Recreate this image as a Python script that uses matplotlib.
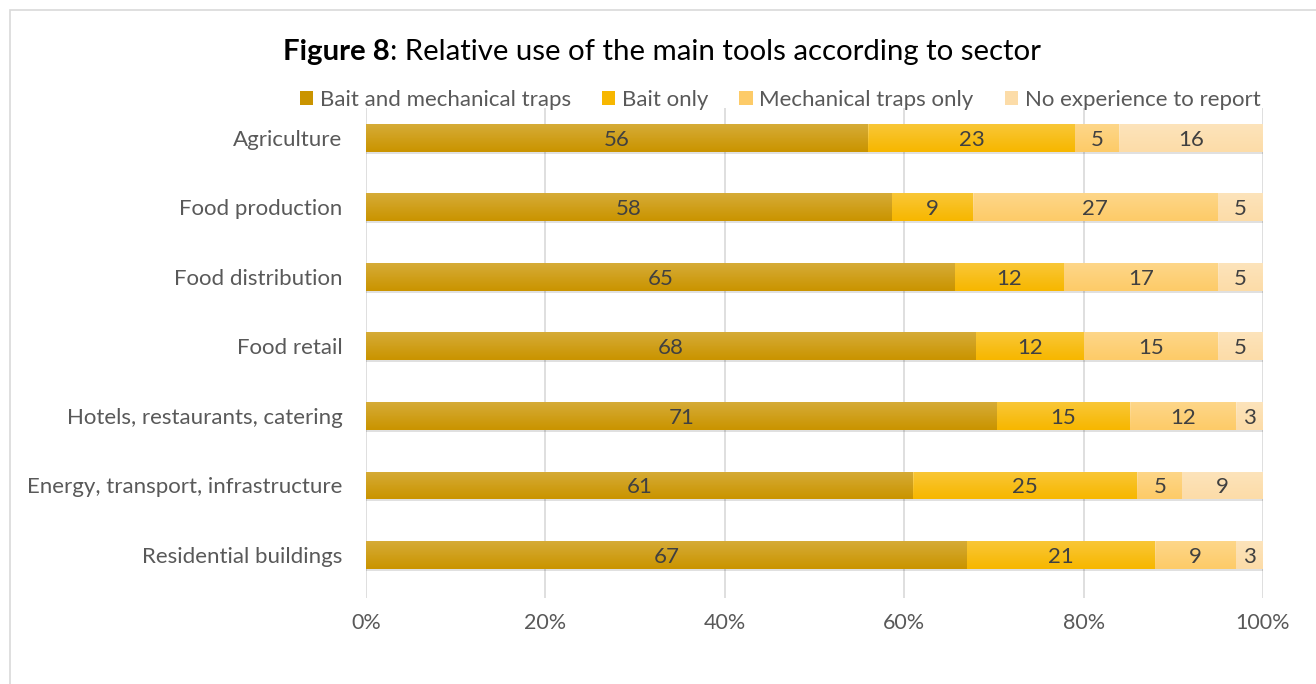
import numpy as np
import matplotlib
matplotlib.use("Agg")
import matplotlib.pyplot as plt
from matplotlib.patches import Rectangle

plt.rcParams["font.family"] = ["Lato", "DejaVu Sans"]

sectors = ["Agriculture", "Food production", "Food distribution", "Food retail",
           "Hotels, restaurants, catering", "Energy, transport, infrastructure",
           "Residential buildings"]
series = ["Bait and mechanical traps", "Bait only", "Mechanical traps only", "No experience to report"]
bait_and_traps = [56, 58, 65, 68, 71, 61, 67]
bait_only = [23, 9, 12, 12, 15, 25, 21]
traps_only = [5, 27, 17, 15, 12, 5, 9]
no_experience = [16, 5, 5, 5, 3, 9, 3]
colors = ["#CA9400", "#F7B700", "#FDCB68", "#FCDCA8"]

vals = np.array([bait_and_traps, bait_only, traps_only, no_experience], dtype=float)
share = vals / vals.sum(0) * 100

fig = plt.figure(figsize=(13.16, 6.84), dpi=100)
fig.patches.append(Rectangle((10/1316, -0.01), 1.0, 1-10/684+0.01, transform=fig.transFigure,
                             fill=False, ec="#D9D9D9", lw=1.2))
ax = fig.add_axes([366/1316, 1-598/684, (1263-366)/1316, (598-108)/684])
y = np.arange(len(sectors))
left = np.zeros(len(sectors))
h = 0.40
# white sheen fading downward, laid over each bar
sheen = np.zeros((32, 1, 4))
sheen[..., :3] = 1.0
sheen[:, 0, 3] = np.linspace(0.22, 0.0, 32)
for i, (name, c) in enumerate(zip(series, colors)):
    bars = ax.barh(y, share[i], left=left, height=h, color=c, label=name, zorder=3)
    for b in bars:
        x0, y0, w, hh = b.get_x(), b.get_y(), b.get_width(), b.get_height()
        ax.imshow(sheen, extent=(x0, x0 + w, y0 + hh, y0), aspect="auto", zorder=3.5,
                  interpolation="bilinear")
    for k in range(len(sectors)):
        ax.text(left[k] + share[i, k]/2, y[k], f"{int(vals[i, k])}", ha="center", va="center_baseline",
                fontsize=16, color="#404040", zorder=4)
    left += share[i]
# soft shadow under bars
ax.barh(y + h/2 + 0.015, 100, height=0.03, color="#000000", alpha=0.12, zorder=2, lw=0)

ax.set_xlim(0, 100)
ax.set_ylim(6.62, -0.43)
ax.set_xticks(np.arange(0, 101, 20))
ax.set_xticklabels([f"{v}%" for v in range(0, 101, 20)])
ax.set_yticks(y)
ax.set_yticklabels(sectors)
ax.tick_params(length=0, labelsize=16, colors="#595959", pad=17)
ax.tick_params(axis="x", labelsize=15.5, pad=11)
ax.grid(axis="x", color="#D9D9D9", lw=1.2, zorder=0)
for s in ax.spines.values():
    s.set_visible(False)

ax.legend(loc="center", bbox_to_anchor=(0.4615, 1.0 + 8/490), ncol=4, frameon=False, fontsize=16,
          handlelength=0.6, handleheight=0.6, handletextpad=0.3, columnspacing=1.4,
          labelcolor="#595959")

# title with bold "Figure 8"
r = fig.canvas.get_renderer()
t1 = fig.text(283/1316, 1-52/684, "Figure 8", fontsize=21.2, fontweight="bold", va="center", ha="left")
bb = t1.get_window_extent(r)
fig.text(bb.x1/1316, 1-52/684, ": Relative use of the main tools according to sector",
         fontsize=21.2, va="center", ha="left")

fig.savefig("out.png", dpi=100)
